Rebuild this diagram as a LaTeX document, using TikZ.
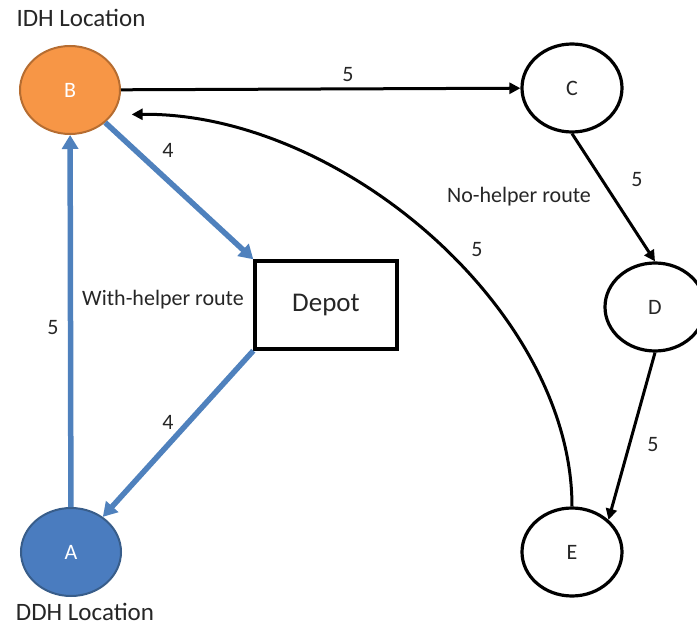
\documentclass[tikz,border=0pt]{standalone}
\usepackage{fontspec}
\setmainfont{Carlito}
\usetikzlibrary{arrows.meta,shapes.geometric}
\definecolor{blueline}{HTML}{4F81BD}
\definecolor{bluefill}{HTML}{4A7CBF}
\definecolor{blueborder}{HTML}{385D8A}
\definecolor{orangefill}{HTML}{F79646}
\definecolor{orangeborder}{HTML}{B66D31}
\definecolor{txt}{HTML}{262626}
\begin{document}
\begin{tikzpicture}[x=1pt,y=-1pt,
  vtx/.style={ellipse, minimum width=100pt, minimum height=88pt, inner sep=0pt,
    line width=3.2pt, draw=black, fill=white, text=txt, font=\fontsize{22}{26}\selectfont},
  colvtx/.style={vtx, line width=2pt},
  depotbox/.style={rectangle, minimum width=142pt, minimum height=88pt, inner sep=0pt,
    line width=3.4pt, draw=black, fill=white, text=txt, font=\fontsize{27}{31}\selectfont},
  lbl/.style={text=txt, inner sep=0pt, font=\fontsize{22}{26}\selectfont},
  biglbl/.style={text=txt, inner sep=0pt, font=\fontsize{25}{29}\selectfont},
  blk/.style={draw=black, line width=3pt, -{Triangle[length=11pt,width=11pt]}},
  blu/.style={draw=blueline, line width=5.5pt, -{Triangle[length=14pt,width=16pt]}}
]
\useasboundingbox (0,0) rectangle (697,626);

\node[colvtx, fill=orangefill, draw=orangeborder, text=white] (B) at (70,90) {B};
\node[colvtx, fill=bluefill, draw=blueborder, text=white] (A) at (71,552) {A};
\node[vtx] (C) at (572,88) {C};
\node[vtx] (D) at (655,307) {D};
\node[vtx] (E) at (572,552) {E};
\node[depotbox] (depot) at (326,305) {Depot};

\node[biglbl] (idh) at (81,18) {IDH Location};
\node[biglbl] (ddh) at (85,612) {DDH Location};

\draw[blu] (A) -- (B);
\draw[blu] (B) -- (depot.north west);
\draw[blu] (depot.south west) -- (A);

\draw[blk] (B) -- (C);
\draw[blk] (C.south) -- (D.north);
\draw[blk] (D.south) -- (E.north east);
\draw[blk, shorten >=19pt] (E.north) .. controls (572,310) and (340,112) .. (B.-30);

\node[lbl] (wab) at (53,328) {5};
\node[lbl] (wbd) at (168,150) {4};
\node[lbl] (wda) at (168,422) {4};
\node[lbl] (wbc) at (348,75) {5};
\node[lbl] (wcd) at (637,180) {5};
\node[lbl] (web) at (477,250) {5};
\node[lbl] (wde) at (653,445) {5};
\node[lbl] (with) at (163,300) {With-helper route};
\node[lbl] (nohelp) at (519,197) {No-helper route};
\end{tikzpicture}
\end{document}
